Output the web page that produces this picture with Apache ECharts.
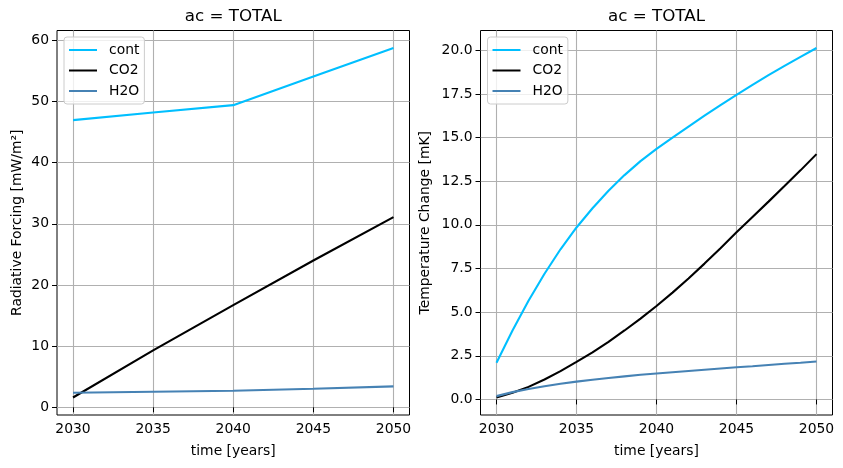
<!DOCTYPE html>
<html><head><meta charset="utf-8">
<script src="https://cdn.jsdelivr.net/npm/echarts@6/dist/echarts.min.js"></script>
<style>html,body{margin:0;padding:0;background:#fff}#c{width:843px;height:468px}</style>
</head><body><div id="c"></div>
<script>
const seriesNames = ['cont', 'CO2', 'H2O'];
const seriesColors = ['#00BFFF', '#000000', '#4682B4'];
const titleText = 'ac = TOTAL';
const xName = 'time [years]';
const rfName = 'Radiative Forcing [mW/m²]';
const dtName = 'Temperature Change [mK]';

const yearsRF = [2030, 2035, 2040, 2045, 2050];
const rfCont = [46.95, 48.2, 49.4, 54.1, 58.75];
const rfCO2 = [1.6, 9.3, 16.7, 24.0, 31.1];
const rfH2O = [2.38, 2.54, 2.7, 3.03, 3.42];

const yearsDT = [2030, 2031, 2032, 2033, 2034, 2035, 2036, 2037, 2038, 2039, 2040,
                 2041, 2042, 2043, 2044, 2045, 2046, 2047, 2048, 2049, 2050];
const dtCont = [2.1, 3.95, 5.65, 7.2, 8.6, 9.85, 10.95, 11.95, 12.85, 13.65, 14.35,
                15.0, 15.63, 16.25, 16.86, 17.45, 18.02, 18.57, 19.1, 19.62, 20.13];
const dtCO2 = [0.11, 0.38, 0.72, 1.14, 1.62, 2.15, 2.7, 3.3, 3.95, 4.63, 5.35,
               6.12, 6.93, 7.78, 8.66, 9.57, 10.45, 11.33, 12.22, 13.12, 14.05];
const dtH2O = [0.19, 0.42, 0.6, 0.76, 0.9, 1.02, 1.13, 1.23, 1.32, 1.41, 1.49,
               1.56, 1.63, 1.7, 1.77, 1.84, 1.9, 1.97, 2.04, 2.1, 2.17];

const xTicks = [2030, 2035, 2040, 2045, 2050];
const rfTicks = [0, 10, 20, 30, 40, 50, 60];
const dtTicks = [0, 2.5, 5, 7.5, 10, 12.5, 15, 17.5, 20];

const FONT = 'DejaVu Sans';
const pairs = (xs, ys) => xs.map((x, i) => [x, ys[i]]);
const pad = v => v.min - 0.05 * (v.max - v.min);
const padMax = v => v.max + 0.05 * (v.max - v.min);

function xAxis(gi) {
  return {
    type: 'value', gridIndex: gi, min: 2029, max: 2051,
    name: xName, nameLocation: 'middle', nameGap: 29,
    nameTextStyle: { fontFamily: FONT, fontSize: 13.9, color: '#000' },
    axisLine: { show: false },
    axisTick: { show: true, inside: false, length: 5, customValues: xTicks, lineStyle: { color: '#000', width: 1 } },
    axisLabel: { customValues: xTicks, margin: 7, fontFamily: FONT, fontSize: 13.9, color: '#000', formatter: v => String(v) },
    splitLine: { show: true, lineStyle: { color: '#b0b0b0', width: 1.1 } }
  };
}
function yAxis(gi, name, ticks, gap, fmt) {
  return {
    type: 'value', gridIndex: gi, min: pad, max: padMax,
    name: name, nameLocation: 'middle', nameGap: gap,
    nameTextStyle: { fontFamily: FONT, fontSize: 13.9, color: '#000' },
    axisLine: { show: false },
    axisTick: { show: true, inside: false, length: 5, customValues: ticks, lineStyle: { color: '#000', width: 1 } },
    axisLabel: { customValues: ticks, margin: 8, fontFamily: FONT, fontSize: 13.9, color: '#000', formatter: fmt },
    splitLine: { show: true, lineStyle: { color: '#b0b0b0', width: 1.1 } }
  };
}
function line(name, data, gi, color) {
  return {
    type: 'line', name: name, xAxisIndex: gi, yAxisIndex: gi, data: data,
    showSymbol: false, symbol: 'none', animation: false,
    lineStyle: { color: color, width: 2.1 }, itemStyle: { color: color }
  };
}
function legend(left) {
  return {
    left: left, top: 37, orient: 'vertical', data: seriesNames,
    icon: 'rect', itemWidth: 28, itemHeight: 2, itemGap: 6.5,
    padding: [6, 5, 6, 5],
    backgroundColor: 'rgba(255,255,255,0.8)', borderColor: '#cccccc', borderWidth: 1, borderRadius: 3,
    textStyle: { fontFamily: FONT, fontSize: 13.9, color: '#000', padding: [0, 0, 0, 7] }
  };
}

const chart = echarts.init(document.getElementById('c'), null, { renderer: 'canvas' });
chart.setOption({
  animation: false,
  backgroundColor: '#fff',
  graphic: [
    { type: 'text', x: 233.25, y: 16.5, style: { text: titleText, textAlign: 'center', textVerticalAlign: 'middle', font: '16.7px "DejaVu Sans"', fill: '#000' } },
    { type: 'text', x: 656.5, y: 16.5, style: { text: titleText, textAlign: 'center', textVerticalAlign: 'middle', font: '16.7px "DejaVu Sans"', fill: '#000' } }
  ],
  legend: [legend(64), legend(487.5)],
  grid: [
    { left: 57, top: 30.5, width: 352.5, height: 384.5, show: true, borderColor: '#000', borderWidth: 1, backgroundColor: 'transparent' },
    { left: 480.5, top: 30.5, width: 352, height: 384.5, show: true, borderColor: '#000', borderWidth: 1, backgroundColor: 'transparent' }
  ],
  xAxis: [xAxis(0), xAxis(1)],
  yAxis: [
    yAxis(0, rfName, rfTicks, 33, v => String(v)),
    yAxis(1, dtName, dtTicks, 48, v => v.toFixed(1))
  ],
  series: [
    line(seriesNames[0], pairs(yearsRF, rfCont), 0, seriesColors[0]),
    line(seriesNames[1], pairs(yearsRF, rfCO2), 0, seriesColors[1]),
    line(seriesNames[2], pairs(yearsRF, rfH2O), 0, seriesColors[2]),
    line(seriesNames[0], pairs(yearsDT, dtCont), 1, seriesColors[0]),
    line(seriesNames[1], pairs(yearsDT, dtCO2), 1, seriesColors[1]),
    line(seriesNames[2], pairs(yearsDT, dtH2O), 1, seriesColors[2])
  ]
});
</script></body></html>
